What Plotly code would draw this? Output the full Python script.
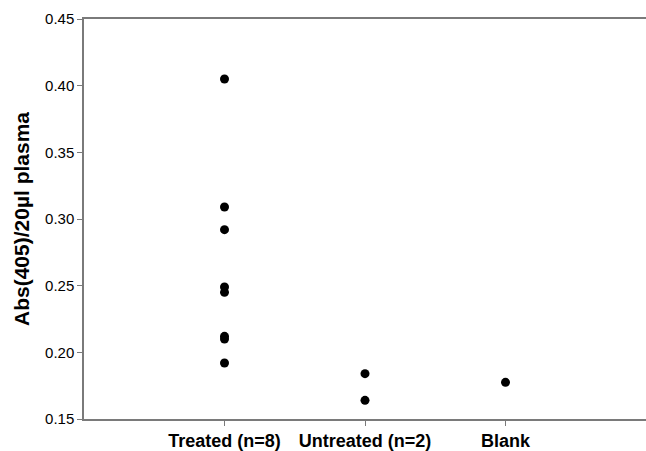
import plotly.graph_objects as go

categories = ["Treated (n=8)", "Untreated (n=2)", "Blank"]
treated = [0.405, 0.309, 0.292, 0.249, 0.245, 0.212, 0.210, 0.192]
untreated = [0.184, 0.164]
blank = [0.1775]
y_ticks = [0.15, 0.20, 0.25, 0.30, 0.35, 0.40, 0.45]
y_ticklabels = ["0.15", "0.20", "0.25", "0.30", "0.35", "0.40", "0.45"]

groups = [treated, untreated, blank]
xs, ys = [], []
for i, vals in enumerate(groups):
    for v in vals:
        xs.append(i + 1)
        ys.append(v)

fig = go.Figure()
fig.add_trace(go.Scatter(
    x=xs, y=ys, mode="markers",
    marker=dict(color="black", size=9),
    showlegend=False, hoverinfo="y",
))

axis_color = "#7a7a7a"
fig.update_layout(
    width=646, height=451,
    margin=dict(l=84, r=0, t=19, b=32),
    paper_bgcolor="white", plot_bgcolor="white",
    font=dict(family="Liberation Sans, Arial, sans-serif", color="black"),
    xaxis=dict(
        range=[0, 4], tickmode="array", tickvals=[1, 2, 3],
        ticktext=["<b>%s</b>" % c for c in categories],
        showline=True, linecolor=axis_color, linewidth=1.5, mirror=True,
        ticks="outside", ticklen=5, tickcolor=axis_color, tickwidth=1,
        showgrid=False, zeroline=False,
        tickfont=dict(size=18, color="black"),
    ),
    yaxis=dict(
        range=[0.15, 0.45], tickmode="array", tickvals=y_ticks,
        ticktext=y_ticklabels,
        showline=True, linecolor=axis_color, linewidth=1.5,
        ticks="outside", ticklen=5, tickcolor=axis_color, tickwidth=1,
        showgrid=False, zeroline=False,
        tickfont=dict(size=15, color="black"),
        title=dict(text="<b>Abs(405)/20µl plasma</b>", font=dict(size=21), standoff=10),
    ),
)

fig.write_html("out.html", config={"displayModeBar": False},
               post_script="document.body.style.margin='0px';")
